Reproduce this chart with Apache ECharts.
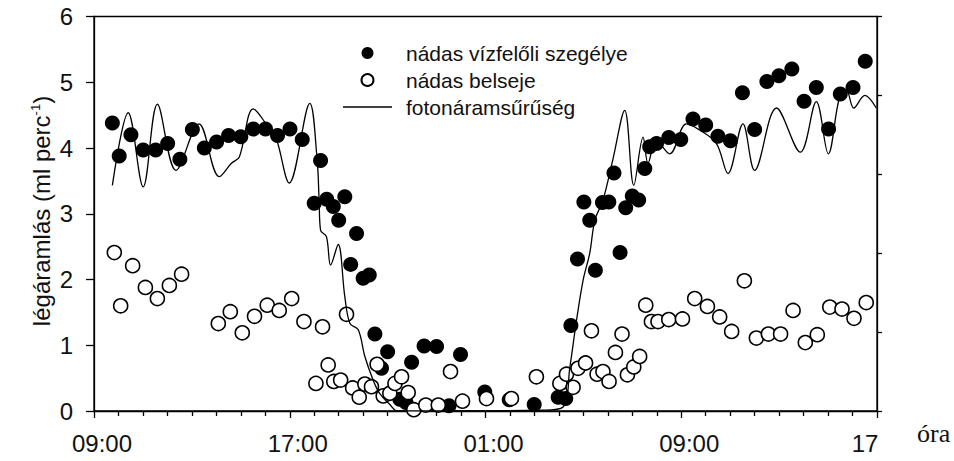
<!DOCTYPE html>
<html>
<head>
<meta charset="utf-8">
<script src="https://cdn.jsdelivr.net/npm/echarts@6/dist/echarts.min.js"></script>
<style>
html, body { margin: 0; padding: 0; background: #fff; }
#chart { width: 954px; height: 461px; }
</style>
</head>
<body>
<div id="chart"></div>
<script>
// x tengely: órák 09:00-tól számolva (0..32)
const tickLabels = ['09:00', '17:00', '01:00', '09:00', '17'];

// nádas vízfelőli szegélye (teli kör)
const borderHours = [0.75, 1.03, 1.51, 2.01, 2.52, 3.01, 3.51, 4.02, 4.51, 5.01, 5.5, 6.0, 6.51, 7.01, 7.5, 8.01, 8.51,
  9.0, 9.26, 9.51, 9.78, 10.0, 10.25, 10.49, 10.73, 11.0, 11.25, 11.48, 11.75, 12.0, 12.5, 12.75, 12.98, 13.49, 14.0,
  14.51, 14.98, 15.97, 16.97, 17.99, 18.97, 19.28, 19.49, 19.76, 20.02, 20.26, 20.49, 20.78, 21.04, 21.25, 21.5, 21.73,
  22.0, 22.26, 22.51, 22.71, 22.99, 23.49, 23.98, 24.48, 25.0, 25.5, 26.01, 26.5, 27.0, 27.5, 27.99, 28.52, 29.02,
  29.52, 30.02, 30.5, 31.02, 31.52];
const borderValues = [4.38, 3.88, 4.20, 3.97, 3.97, 4.07, 3.83, 4.28, 4.00, 4.09, 4.19, 4.17, 4.29, 4.29, 4.19, 4.29, 4.13,
  3.16, 3.81, 3.22, 3.11, 2.90, 3.26, 2.23, 2.70, 2.02, 2.07, 1.17, 0.65, 0.90, 0.18, 0.13, 0.74, 0.99, 0.98,
  0.08, 0.86, 0.29, 0.17, 0.10, 0.21, 0.19, 1.30, 2.31, 3.18, 2.90, 2.14, 3.17, 3.18, 3.62, 2.41, 3.09,
  3.27, 3.21, 3.69, 4.02, 4.07, 4.16, 4.13, 4.44, 4.35, 4.18, 4.11, 4.84, 4.28, 5.01, 5.10, 5.20, 4.71,
  4.92, 4.29, 4.82, 4.92, 5.32];

// nádas belseje (üres kör)
const innerHours = [0.83, 1.09, 1.58, 2.10, 2.59, 3.08, 3.58, 5.08, 5.57, 6.06, 6.56, 7.08, 7.57, 8.08, 8.58,
  9.07, 9.34, 9.57, 9.80, 10.08, 10.32, 10.57, 10.84, 11.07, 11.34, 11.57, 11.82, 12.09, 12.30, 12.57, 12.84,
  13.07, 13.56, 14.07, 14.57, 15.06, 16.04, 17.06, 18.08, 19.04, 19.31, 19.58, 19.78, 20.09, 20.33, 20.56,
  20.80, 21.05, 21.31, 21.58, 21.80, 22.06, 22.30, 22.55, 22.78, 23.05, 23.49, 24.05, 24.55, 25.07, 25.57,
  26.06, 26.58, 27.07, 27.56, 28.06, 28.57, 29.07, 29.56, 30.07, 30.57, 31.06, 31.56];
const innerValues = [2.41, 1.60, 2.21, 1.88, 1.71, 1.91, 2.08, 1.33, 1.51, 1.19, 1.44, 1.61, 1.53, 1.71, 1.36,
  0.42, 1.28, 0.70, 0.45, 0.47, 1.47, 0.35, 0.21, 0.41, 0.37, 0.71, 0.23, 0.27, 0.42, 0.52, 0.28,
  0.02, 0.09, 0.09, 0.60, 0.15, 0.19, 0.19, 0.52, 0.42, 0.56, 0.36, 0.65, 0.73, 1.22, 0.56,
  0.60, 0.45, 0.89, 1.17, 0.55, 0.67, 0.83, 1.61, 1.36, 1.36, 1.39, 1.40, 1.71, 1.59, 1.43,
  1.21, 1.98, 1.11, 1.17, 1.17, 1.53, 1.04, 1.16, 1.58, 1.55, 1.41, 1.65];

// fotonáramsűrűség (jobb tengely, felirat nélkül, 0..5)
const photonHours = [0.75, 1.4, 2.01, 2.59, 3.35, 4.29, 5.12, 5.62, 5.94, 6.51, 7.12, 7.45, 7.98, 8.82, 9.12, 9.2,
  9.26, 9.5, 9.67, 9.98, 10.25, 10.46, 10.8, 11.07, 11.41, 11.68, 12.1, 12.4, 18.36, 19.17, 19.45, 19.72, 19.99,
  20.26, 20.47, 20.8, 21.2, 21.69, 22.06, 22.44, 22.64, 22.98, 23.53, 24.21, 24.76, 25.44, 25.91, 26.52, 27.0,
  27.89, 28.87, 29.52, 30.01, 30.47, 30.75, 31.05, 31.5, 31.97];
const photonValues = [2.86, 3.78, 2.84, 3.89, 3.05, 3.64, 2.97, 3.14, 3.22, 3.83, 3.6, 3.45, 2.89, 3.9, 3.18, 2.67,
  2.29, 2.21, 1.85, 2.11, 1.45, 1.11, 1.03, 0.69, 0.39, 0.22, 0.08, 0, 0.01, 0.05, 0.56, 1.15, 1.66,
  2.0, 2.42, 2.67, 3.18, 3.81, 2.86, 3.47, 3.14, 3.43, 3.26, 3.64, 3.56, 3.39, 3.01, 3.64, 3.05,
  3.84, 3.28, 3.92, 3.26, 3.98, 4.06, 3.84, 4.0, 3.84];

const pairs = (xs, ys) => xs.map((x, i) => [x, ys[i]]);

const chart = echarts.init(document.getElementById('chart'), null, { renderer: 'svg' });

const axisColor = '#000';
const font = 'Arial, "Liberation Sans", sans-serif';

const option = {
  animation: false,
  backgroundColor: '#fff',
  grid: { left: 94, right: 77, top: 16.5, bottom: 50, show: true, borderColor: axisColor, borderWidth: 1.3 },
  legend: {
    orient: 'vertical',
    left: 343,
    top: 42.5,
    padding: 0,
    itemWidth: 49,
    itemHeight: 12,
    itemGap: 6,
    textStyle: { fontFamily: font, fontSize: 21, color: '#111', lineHeight: 21, padding: [0, 0, 0, 9] },
    data: [
      'nádas vízfelőli szegélye',
      'nádas belseje',
      { name: 'fotonáramsűrűség', icon: 'path://M0,0 L49,0 L49,1.3 L0,1.3 Z', itemStyle: { color: '#000' } }
    ]
  },
  xAxis: {
    type: 'value',
    min: 0,
    max: 32,
    interval: 8,
    axisLine: { show: true, onZero: false, lineStyle: { color: axisColor, width: 1.3 } },
    axisTick: { show: true, length: 7, lineStyle: { color: axisColor, width: 1.3 } },
    minorTick: { show: true, splitNumber: 8, length: 5, lineStyle: { color: axisColor, width: 1.3 } },
    splitLine: { show: false },
    axisLabel: {
      margin: 20,
      formatter: v => {
        const label = tickLabels[Math.round(v / 8)];
        return v === 32 ? '{e|' + label + '}' : '{s|' + label + '}';
      },
      rich: {
        s: { fontFamily: font, fontSize: 24, color: '#111', padding: [0, 0, 0, 16] },
        e: { fontFamily: font, fontSize: 24, color: '#111', padding: [0, 24, 0, 0] }
      }
    }
  },
  yAxis: [
    {
      type: 'value',
      min: 0,
      max: 6,
      interval: 1,
      axisLine: { show: true, lineStyle: { color: axisColor, width: 1.3 } },
      axisTick: { show: true, length: 8, lineStyle: { color: axisColor, width: 1.3 } },
      splitLine: { show: false },
      axisLabel: { margin: 21, fontFamily: font, fontSize: 24, color: '#111' }
    },
    {
      type: 'value',
      position: 'right',
      min: 0,
      max: 5,
      interval: 1,
      axisLine: { show: true, lineStyle: { color: axisColor, width: 1.3 } },
      axisTick: { show: true, length: 5, lineStyle: { color: axisColor, width: 1.3 } },
      splitLine: { show: false },
      axisLabel: { show: false }
    }
  ],
  graphic: [
    {
      type: 'text',
      x: 41,
      y: 211,
      rotation: Math.PI / 2,
      style: {
        text: '{a|légáramlás (ml perc}{s|-1}{a|)}',
        align: 'center',
        verticalAlign: 'middle',
        rich: {
          a: { fontFamily: font, fontSize: 24, fill: '#111' },
          s: { fontFamily: font, fontSize: 13, fill: '#111', verticalAlign: 'top' }
        }
      }
    },
    {
      type: 'text',
      x: 917,
      y: 433,
      style: {
        text: 'óra',
        fontFamily: '"Liberation Serif", "Times New Roman", serif',
        fontSize: 26,
        fill: '#111',
        align: 'left',
        verticalAlign: 'middle'
      }
    }
  ],
  series: [
    {
      name: 'nádas vízfelőli szegélye',
      type: 'scatter',
      data: pairs(borderHours, borderValues),
      symbol: 'circle',
      symbolSize: 15,
      itemStyle: { color: '#000', opacity: 1 },
      z: 2
    },
    {
      name: 'nádas belseje',
      type: 'scatter',
      data: pairs(innerHours, innerValues),
      symbol: 'circle',
      symbolSize: 14,
      itemStyle: { color: '#fff', borderColor: '#000', borderWidth: 1.6, opacity: 1 },
      z: 3
    },
    {
      name: 'fotonáramsűrűség',
      type: 'line',
      yAxisIndex: 1,
      data: pairs(photonHours, photonValues),
      smooth: 0.35,
      symbol: 'none',
      lineStyle: { color: '#000', width: 1.3 },
      itemStyle: { color: '#000' },
      z: 4
    }
  ]
};

chart.setOption(option);
</script>
</body>
</html>
